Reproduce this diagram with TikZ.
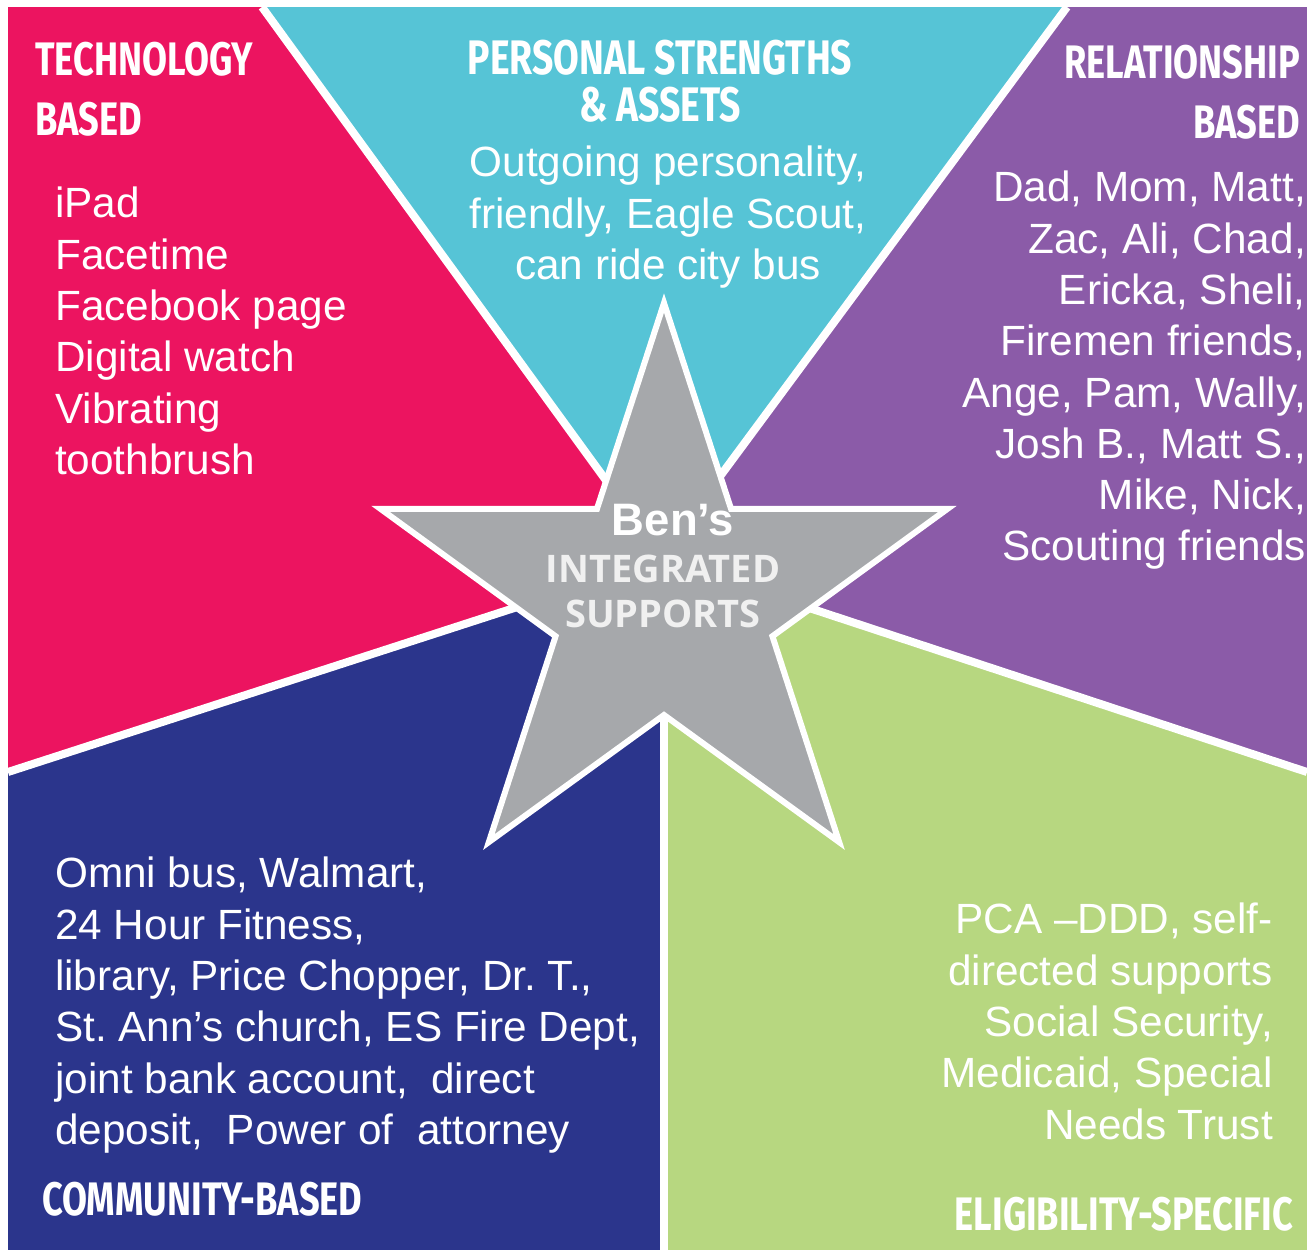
\documentclass[tikz,border=0pt]{standalone}
\usepackage{fontspec}
\setmainfont{Liberation Sans}
\newfontfamily\headfont[FakeStretch=0.77]{Fira Sans}
\newfontfamily\starfont{Open Sans}
\definecolor{techpink}{HTML}{EC1460}
\definecolor{assetcyan}{HTML}{56C4D6}
\definecolor{relpurple}{HTML}{8B5BA8}
\definecolor{commnavy}{HTML}{2B358C}
\definecolor{eliggreen}{HTML}{B7D780}
\definecolor{stargray}{HTML}{A6A8AB}
\tikzset{seam/.style={white,line width=8pt},starline/.style={fill=stargray,draw=white,line width=6pt,line join=miter},head/.style={inner sep=0pt,text=white,font={\headfont\bfseries\fontsize{47}{60}\selectfont}},body/.style={inner sep=0pt,text=white,font={\fontsize{42.3}{51.3}\selectfont}},starword/.style={inner sep=0pt,text=white!94!black,font={\starfont\bfseries\fontsize{38}{45}\selectfont}}}
\frenchspacing

\begin{document}
\begin{tikzpicture}[x=1pt,y=-1pt]
\useasboundingbox (0,0) rectangle (1307,1250);
\fill[white] (0,0) rectangle (1307,1250);
%seam points
\coordinate (hub) at (664,601);
\coordinate (pc top) at (262,7);
\coordinate (pc in) at (621,501);
\coordinate (cp top) at (1067,7);
\coordinate (cp in) at (704,498);
\coordinate (pn edge) at (8,772);
\coordinate (pn in) at (542,599);
\coordinate (pg edge) at (1307,772);
\coordinate (pg in) at (782,599);
\coordinate (ng bot) at (664,1250);
\coordinate (ng in) at (664,690);

%sectors
\fill[techpink] (8,7) -- (pc top) -- (pc in) -- (hub) -- (pn in) -- (pn edge) -- cycle;
\fill[assetcyan] (pc top) -- (cp top) -- (cp in) -- (hub) -- (pc in) -- cycle;
\fill[relpurple] (cp top) -- (1307,7) -- (pg edge) -- (pg in) -- (hub) -- (cp in) -- cycle;
\fill[eliggreen] (pg edge) -- (1307,1250) -- (ng bot) -- (ng in) -- (hub) -- (pg in) -- cycle;
\fill[commnavy] (pn edge) -- (pn in) -- (hub) -- (ng in) -- (ng bot) -- (8,1250) -- cycle;
\draw[seam] (pc top) -- (pc in);
\draw[seam] (cp top) -- (cp in);
\draw[seam] (pn edge) -- (pn in);
\draw[seam] (pg edge) -- (pg in);
\draw[seam] (ng bot) -- (ng in);

%star
\begin{scope}[shift={(hub)}]
\draw[starline] (-90:298) -- (-54:114) -- (-18:298) -- (18:114) -- (54:298) -- (90:114) -- (126:298) -- (162:114) -- (198:298) -- (234:114) -- cycle;
\end{scope}
\node (bens) at (673,504) [anchor=north,inner sep=0pt,text=white,font={\bfseries\fontsize{45.5}{50}\selectfont}] {Ben’s};
\node (integ) at (663,555) [starword,anchor=north] {INTEGRATED};
\node (supp) at (663,600) [starword,anchor=north] {SUPPORTS};

%technology
\node (techhead) at (35,42) [head,anchor=north west,align=left] {TECHNOLOGY\\BASED};
\node (techlist) at (55,187) [body,anchor=north west,align=left] {iPad\\Facetime\\Facebook page\\Digital watch\\Vibrating\\toothbrush};

%assets
\node (assethead) at (660,40) [head,anchor=north,align=center,font={\headfont\bfseries\fontsize{48.5}{47}\selectfont}] {PERSONAL STRENGTHS\\\& ASSETS};
\node (assetlist) at (668,146) [body,anchor=north,align=center] {Outgoing personality,\\friendly, Eagle Scout,\\can ride city bus};

%relationship
\node (relhead) at (1300,45) [head,anchor=north east,align=right] {RELATIONSHIP\\BASED};
\node (rellist) at (1306,171) [body,anchor=north east,align=right] {Dad, Mom, Matt,\\Zac, Ali, Chad,\\Ericka, Sheli,\\Firemen friends,\\Ange, Pam, Wally,\\Josh B., Matt S.,\\Mike, Nick,\\Scouting friends};

%community
\node (commlist) at (55,857) [body,anchor=north west,align=left] {Omni bus, Walmart,\\24 Hour Fitness,\\library, Price Chopper, Dr. T.,\\St. Ann’s church, ES Fire Dept,\\joint bank account,~ direct\\deposit,~ Power of~ attorney};
\node (commhead) at (42,1182) [head,anchor=north west] {COMMUNITY-BASED};

%eligibility
\node (eliglist) at (1273,903) [body,anchor=north east,align=right] {PCA –DDD, self-\\directed supports\\Social Security,\\Medicaid, Special\\Needs Trust};
\node (elighead) at (1293,1197) [head,anchor=north east] {ELIGIBILITY-SPECIFIC};
\end{tikzpicture}
\end{document}
